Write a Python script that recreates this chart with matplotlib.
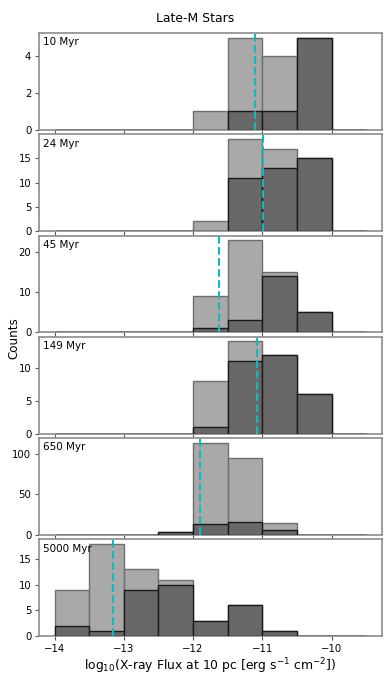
import numpy as np
import matplotlib
matplotlib.use('Agg')
import matplotlib.pyplot as plt
from matplotlib.ticker import MaxNLocator

# histogram bins in log10 flux
bin_edges = [-14.0, -13.5, -13.0, -12.5, -12.0, -11.5, -11.0, -10.5, -10.0, -9.5]

ages = ['10 Myr', '24 Myr', '45 Myr', '149 Myr', '650 Myr', '5000 Myr']

# all stars (light bars)
counts_all = [
    [0, 0, 0, 0, 1, 5, 4, 5, 0],
    [0, 0, 0, 0, 2, 19, 17, 15, 0],
    [0, 0, 0, 0, 9, 23, 15, 5, 0],
    [0, 0, 0, 0, 8, 14, 12, 6, 0],
    [0, 0, 0, 3, 114, 95, 15, 0, 0],
    [9, 18, 13, 11, 3, 6, 1, 0, 0],
]

# subset (dark bars)
counts_sub = [
    [0, 0, 0, 0, 0, 1, 1, 5, 0],
    [0, 0, 0, 0, 0, 11, 13, 15, 0],
    [0, 0, 0, 0, 1, 3, 14, 5, 0],
    [0, 0, 0, 0, 1, 11, 12, 6, 0],
    [0, 0, 0, 3, 13, 16, 6, 0, 0],
    [2, 1, 9, 10, 3, 6, 1, 0, 0],
]

# median flux per age
medians = [-11.10, -10.99, -11.63, -11.08, -11.90, -13.16]

centers = 0.5*(np.array(bin_edges[:-1]) + np.array(bin_edges[1:]))

fig, axes = plt.subplots(6, 1, figsize=(3.9, 6.76), dpi=100, sharex=True)
fig.subplots_adjust(left=0.1, right=0.979, top=0.951, bottom=0.0592, hspace=0.047)

for ax, age, ca, cs, med in zip(axes, ages, counts_all, counts_sub, medians):
    ax.hist(centers, bins=bin_edges, weights=ca, facecolor='#a9a9a9',
            edgecolor='#6e6e6e', linewidth=1.0, zorder=3)
    ax.hist(centers, bins=bin_edges, weights=cs, facecolor='#686868',
            edgecolor='#1a1a1a', linewidth=1.0, zorder=3)
    ax.axvline(med, color='#14b9bf', linestyle='--', linewidth=1.5, zorder=4)
    ax.text(0.012, 0.955, age, transform=ax.transAxes, ha='left', va='top',
            fontsize=7.5, zorder=5)
    ax.yaxis.set_major_locator(MaxNLocator(nbins=4, steps=[1, 2, 5, 10]))
    ax.tick_params(labelsize=7.3, length=3, color='#555555', pad=2.5)
    for sp in ax.spines.values():
        sp.set_color('#8c8c8c')
        sp.set_linewidth(1.2)

axes[-1].set_xticks([-14, -13, -12, -11, -10])
axes[-1].set_xlabel(r'log$_{10}$(X-ray Flux at 10 pc [erg s$^{-1}$ cm$^{-2}$])',
                    fontsize=8.9, labelpad=2)
fig.text(0.035, 0.5, 'Counts', rotation=90, ha='center', va='center', fontsize=8.6)
fig.suptitle('Late-M Stars', y=0.972, va='center', fontsize=8.9)

fig.savefig('out.png', dpi=100)
